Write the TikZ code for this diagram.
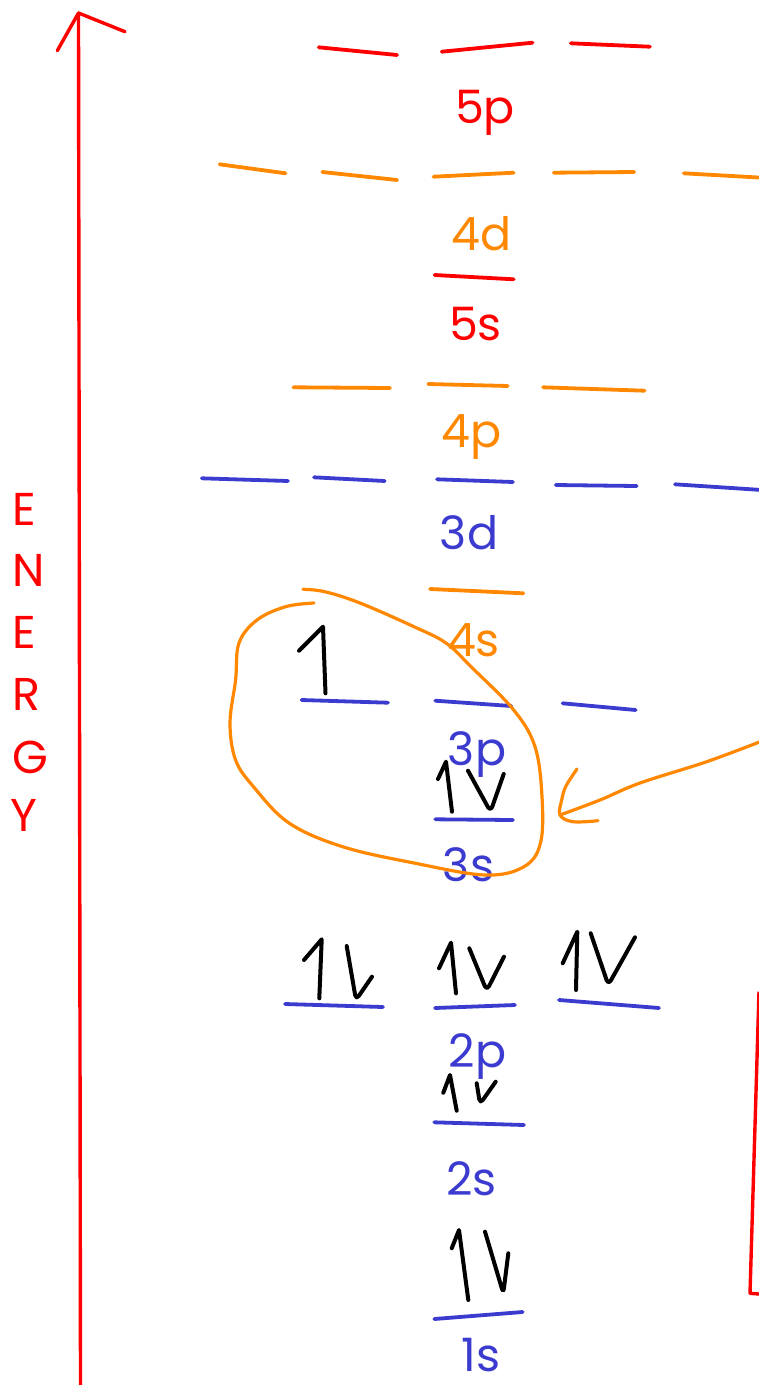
\documentclass[tikz,border=0pt]{standalone}
\usepackage{fontspec}
\setmainfont{Poppins}
\definecolor{cred}{HTML}{FF0000}
\definecolor{corange}{HTML}{FF8800}
\definecolor{cblue}{HTML}{3B3BCF}
\tikzset{
  lvl/.style={line width=3.8pt, line cap=round},
  rlvl/.style={lvl, draw=cred},
  olvl/.style={lvl, draw=corange},
  blvl/.style={lvl, draw=cblue},
  lbl/.style={inner sep=0pt, anchor=base, font=\fontsize{46}{50}\selectfont},
  elec/.style={draw=black, line width=4pt, line cap=round, line join=round},
  vdown/.style={elec, rounded corners=5pt},
  letter/.style={inner sep=0pt, anchor=base west, text=cred, font=\fontsize{46}{50}\selectfont},
  pen/.style={draw=corange, line width=3.2pt, line cap=round, line join=round}
}
\begin{document}
\begin{tikzpicture}[x=1pt,y=-1pt]
\path[use as bounding box] (0,0) rectangle (759,1385);

% energy axis
\coordinate (axb) at (80.5,1385);
\coordinate (axt) at (78.5,13);
\draw[draw=cred, line width=3.4pt, line cap=round] (axb) -- (axt);
\draw[draw=cred, line width=3.4pt, line cap=round, line join=round] (57.3,50.7) -- (axt) -- (125,31.7);

% ENERGY label
\node[letter] (e1) at (12,525) {E};
\node[letter] (e2) at (12,586.7) {N};
\node[letter] (e3) at (12,648) {E};
\node[letter] (e4) at (12,710) {R};
\node[letter] (e5) at (12,773) {G};
\node[letter] (e6) at (10,831.7) {Y};

% right red bracket
\draw[draw=cred, line width=3.4pt, line join=round] (759,991.7) -- (750,1293.3) -- (759,1294);

% 5p
\draw[rlvl] (318.7,47.3) -- (397.1,55);
\draw[rlvl] (441.7,51.7) -- (532.6,42.7);
\draw[rlvl] (570.8,43.3) -- (649.9,46.7);
\node[lbl, text=cred] (l5p) at (485,123) {5p};
% 4d
\draw[olvl] (219.6,164.3) -- (285.6,173.3);
\draw[olvl] (322.3,172) -- (397.1,180);
\draw[olvl] (433.5,176.7) -- (513.7,172.7);
\draw[olvl] (553.7,172.7) -- (634.2,172);
\draw[olvl] (683.8,173.3) -- (762,177.7);
\node[lbl, text=corange] (l4d) at (481.5,250) {4d};
% 5s
\draw[rlvl] (434.6,275) -- (513.7,279.3);
\node[lbl, text=cred] (l5s) at (475.5,340) {5s};
% 4p
\draw[olvl] (293.4,387.3) -- (390,388);
\draw[olvl] (428.2,384) -- (507.7,386);
\draw[olvl] (543,387.3) -- (644.6,390.7);
\node[lbl, text=corange] (l4p) at (471.5,447) {4p};
% 3d
\draw[blvl] (201.8,478.3) -- (288,481);
\draw[blvl] (314,477.3) -- (384.7,481);
\draw[blvl] (437,479.3) -- (513,482);
\draw[blvl] (555.8,485) -- (636.7,486);
\draw[blvl] (675,484.3) -- (762,490);
\node[lbl, text=cblue] (l3d) at (469,549) {3d};
% 4s
\draw[olvl] (430,589) -- (523.4,593.3);
\node[lbl, text=corange] (l4s) at (473.5,656) {4s};
% 3p
\draw[blvl] (301.6,700) -- (387.9,702.7);
\draw[blvl] (435.3,700.7) -- (511.2,706);
\draw[blvl] (562.6,703.3) -- (635.7,710);
\node[lbl, text=cblue] (l3p) at (477,765) {3p};
% 3s
\draw[blvl] (435.3,819.3) -- (513,820);
\node[lbl, text=cblue] (l3s) at (468.5,881.7) {3s};
% 2p
\draw[blvl] (285,1004) -- (383,1007);
\draw[blvl] (435,1008) -- (515,1005);
\draw[blvl] (559,1000) -- (659,1008);
\node[lbl, text=cblue] (l2p) at (477.5,1067) {2p};
% 2s
\draw[blvl] (434.3,1122.3) -- (524,1125);
\node[lbl, text=cblue] (l2s) at (471.5,1195) {2s};
% 1s
\draw[blvl] (434.3,1319) -- (522.7,1312);
\node[lbl, text=cblue] (l1s) at (481,1371) {1s};

% electrons
\draw[elec] (299,650.7) -- (323,626.7) -- (325.5,693.3);
\draw[elec] (438,779) -- (446,761.7) -- (452,811.7);
\draw[vdown] (468,770.7) -- (490.5,811.7) -- (503.7,774);
\draw[elec] (304,960) -- (321.7,939.3) -- (319.3,998.3);
\draw[vdown] (346.7,946) -- (356,1000) -- (372,976.7);
\draw[elec] (439,968.3) -- (451,942.7) -- (456,993.3);
\draw[vdown] (469.3,948.3) -- (486.7,990.7) -- (504,956.7);
\draw[elec] (562.7,963.3) -- (577.3,931.7) -- (576,990);
\draw[vdown] (590.7,933.3) -- (608.3,985) -- (635,937.3);
\draw[elec] (443.3,1092.7) -- (450,1075) -- (456.7,1110.7);
\draw[vdown] (476.7,1083.3) -- (480,1104) -- (495.7,1081.7);
\draw[elec] (451.7,1248.3) -- (459,1230) -- (468.3,1300);
\draw[vdown] (485,1231.7) -- (503.3,1293.3) -- (508.3,1253.3);

% orange loop around valence electrons
\draw[pen] plot[smooth, tension=0.6] coordinates {
 (314,603) (285.6,606.7) (257,620) (239,643) (235.6,680) (230,723)
 (235.6,760) (253.5,786.7) (289,823) (342.6,846.7) (414,863) (485,875)
 (524,866.7) (540.5,843) (542,796.7) (535,746.7) (513.7,710) (471,666.7)
 (446,643) (414,626.7) (360,603) (324.8,591.7) (303,589.3)};

% orange arrow pointing at loop
\coordinate (arstart) at (762,741);
\coordinate (artip) at (560,815);
\draw[pen] plot[smooth, tension=0.6] coordinates {(arstart) (706.7,761.7) (640,783) (600,800) (artip)};
\draw[pen] plot[smooth, tension=0.6] coordinates {(577,769) (566,786) (561.7,800) (artip) (573,821.7) (598,820.7)};
\end{tikzpicture}
\end{document}
